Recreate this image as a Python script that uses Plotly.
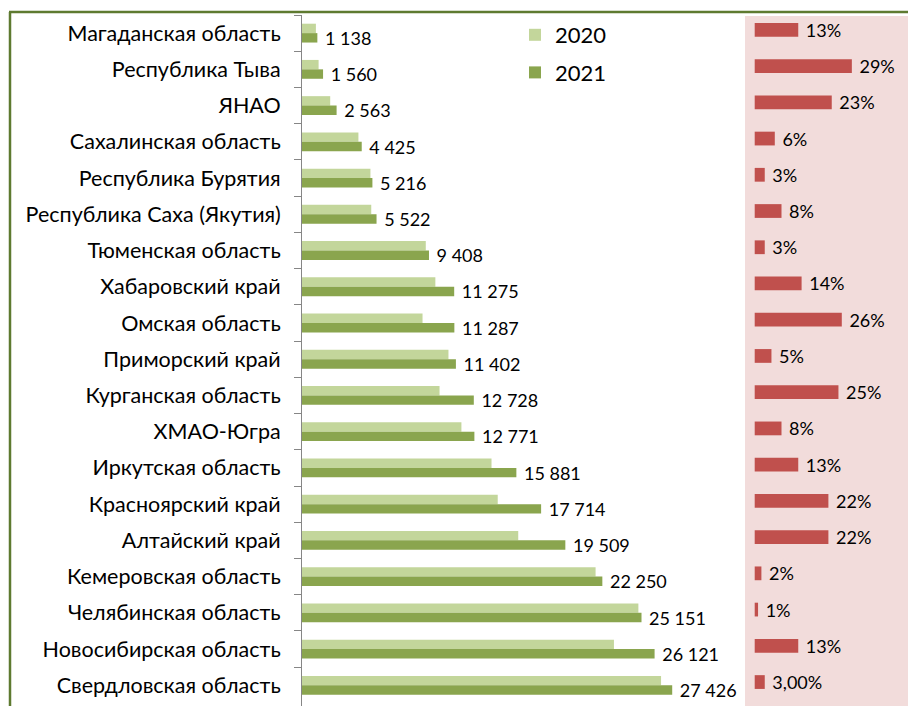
import plotly.graph_objects as go

regions = [
    "Магаданская область", "Республика Тыва", "ЯНАО", "Сахалинская область",
    "Республика Бурятия", "Республика Саха (Якутия)", "Тюменская область",
    "Хабаровский край", "Омская область", "Приморский край", "Курганская область",
    "ХМАО-Югра", "Иркутская область", "Красноярский край", "Алтайский край",
    "Кемеровская область", "Челябинская область", "Новосибирская область",
    "Свердловская область",
]
values_2020 = [1030, 1230, 2090, 4180, 5070, 5130, 9170, 9880, 8930, 10850,
               10190, 11810, 14040, 14500, 16020, 21750, 24920, 23110, 26600]
values_2021 = [1138, 1560, 2563, 4425, 5216, 5522, 9408, 11275, 11287, 11402,
               12728, 12771, 15881, 17714, 19509, 22250, 25151, 26121, 27426]
growth_pct = [13, 29, 23, 6, 3, 8, 3, 14, 26, 5, 25, 8, 13, 22, 22, 2, 1, 13, 3]
growth_labels = ["13%", "29%", "23%", "6%", "3%", "8%", "3%", "14%", "26%", "5%",
                 "25%", "8%", "13%", "22%", "22%", "2%", "1%", "13%", "3,00%"]

NB = "\u00a0"
labels_2021 = [NB + f"{v:,}".replace(",", " ") for v in values_2021]
labels_growth = [NB + s for s in growth_labels]

FONT = "Lato, 'Open Sans', sans-serif"
W, H = 908, 706
L, T = 302, 15
plot_w = W - L
split = (745 - L) / plot_w

fig = go.Figure()
fig.add_trace(go.Bar(
    y=regions, x=values_2020, orientation="h", name="2020",
    marker=dict(color="#C3D69B", line=dict(width=0)),
    width=0.26, offset=-0.26, legendgroup="a",
    xaxis="x", yaxis="y",
))
fig.add_trace(go.Bar(
    y=regions, x=values_2021, orientation="h", name="2021",
    marker=dict(color="#8AA54E", line=dict(width=0)),
    width=0.26, offset=0.0, legendgroup="b",
    text=labels_2021, textposition="outside", cliponaxis=False,
    constraintext="none",
    textfont=dict(family=FONT, size=18, color="#000000"),
    xaxis="x", yaxis="y",
))
fig.add_trace(go.Bar(
    y=regions, x=growth_pct, orientation="h", name="Прирост",
    marker=dict(color="#C0504D", line=dict(width=0)),
    width=0.38, offset=-0.28, showlegend=False,
    text=labels_growth, textposition="outside", cliponaxis=False,
    constraintext="none",
    textfont=dict(family=FONT, size=18, color="#000000"),
    xaxis="x2", yaxis="y",
))

band = (H - T + 2.6) / 19  # px per category
extra = 2.6 / band

fig.update_layout(
    width=W, height=H,
    margin=dict(l=L, r=0, t=T, b=0, autoexpand=False),
    paper_bgcolor="#FFFFFF", plot_bgcolor="rgba(0,0,0,0)",
    barmode="overlay",
    font=dict(family=FONT, size=21, color="#000000"),
    xaxis=dict(domain=[0, split], range=[0, (745 - 302.7) / 0.013477],
               visible=False, fixedrange=True),
    xaxis2=dict(domain=[split, 1], anchor="y",
                range=[-(754.7 - 745) / 3.35, -(754.7 - 745) / 3.35 + (W - 745) / 3.35],
                visible=False),
    yaxis=dict(
        autorange=False, range=[18.5 + extra, -0.5],
        type="category", showline=True, linecolor="#868686", linewidth=1,
        ticks="outside", ticklen=7, tickcolor="#868686", tickson="boundaries",
        showgrid=False, zeroline=False,
        tickfont=dict(family=FONT, size=21.5, color="#000000"),
        ticklabelstandoff=16,
    ),
    legend=dict(
        x=(515 - L) / plot_w, y=1 - (14 - T) / (H - T), xref="paper", yref="paper",
        xanchor="left", yanchor="top",
        font=dict(family=FONT, size=22, color="#000000"),
        bgcolor="rgba(0,0,0,0)", traceorder="grouped", tracegroupgap=6,
        itemwidth=30,
    ),
    showlegend=True,
    shapes=[
        dict(type="rect", xref="paper", yref="paper", layer="below",
             x0=split, x1=1.0, y0=-0.01, y1=1 - (16 - T) / (H - T),
             fillcolor="#F2DCDB", line=dict(width=0)),
        dict(type="line", xref="paper", yref="paper",
             x0=(9 - L) / plot_w, x1=1.01, y0=1 + (T - 12) / (H - T), y1=1 + (T - 12) / (H - T),
             line=dict(color="#5E7A30", width=2.5)),
        dict(type="line", xref="paper", yref="paper",
             x0=(10 - L) / plot_w, x1=(10 - L) / plot_w, y0=-0.02, y1=1 + (T - 12) / (H - T),
             line=dict(color="#5E7A30", width=2.5)),
    ],
)

fig.write_html("out.html", config={"displayModeBar": False},
               post_script="document.body.style.margin='0';document.body.style.overflow='hidden';")
